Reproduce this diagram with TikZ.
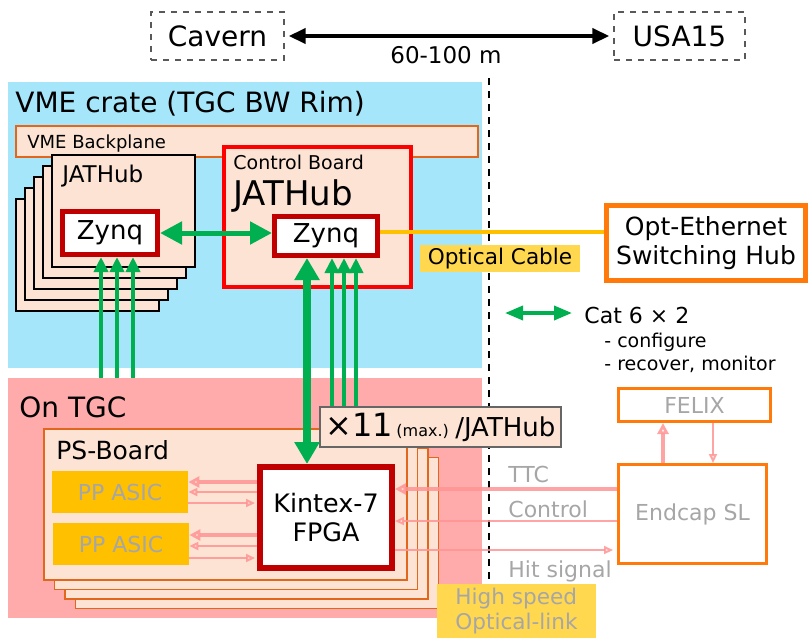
\documentclass[tikz,border=0pt]{standalone}
\usepackage{fontspec}
\setmainfont{DejaVu Sans}
\usetikzlibrary{arrows.meta}
\definecolor{CrateBlue}{HTML}{A5E6FB}
\definecolor{TGCPink}{HTML}{FFABAB}
\definecolor{Peach}{HTML}{FDE3D4}
\definecolor{CardOrange}{HTML}{E2661B}
\definecolor{HubOrange}{HTML}{FF7A0A}
\definecolor{ChipRed}{HTML}{C00000}
\definecolor{BoardRed}{HTML}{FF0000}
\definecolor{LinkGreen}{HTML}{00B050}
\definecolor{CableGold}{HTML}{FFC000}
\definecolor{TagYellow}{HTML}{FFD84F}
\definecolor{SignalPink}{HTML}{FF9494}
\definecolor{FadeGray}{HTML}{A6A6A6}
\newcommand{\setsize}[1]{\fontsize{#1}{1.15\dimexpr#1pt\relax}\selectfont}

\begin{document}
\begin{tikzpicture}[x=0.5pt,y=-0.5pt,
  region/.style={inner sep=0,minimum width=237pt},
  tag/.style={inner sep=0,anchor=base west},
  place/.style={draw=black!65,dashed,line width=0.7pt,inner sep=0,
                minimum height=24pt,font=\setsize{14}},
  plane/.style={draw=CardOrange,line width=0.7pt,fill=Peach,inner sep=0},
  hubcard/.style={draw=black,line width=1.4pt,fill=Peach,inner sep=0},
  pscard/.style={draw=CardOrange,line width=0.8pt,fill=Peach,inner sep=0},
  chip/.style={draw=ChipRed,fill=white,inner sep=0},
  asic/.style={fill=CableGold,inner sep=0,minimum width=68pt,minimum height=21pt,
               text=FadeGray,font=\setsize{11}},
  slbox/.style={draw=HubOrange,line width=1.5pt,fill=white,inner sep=0,
                text=FadeGray,font=\setsize{11}},
  note/.style={fill=TagYellow,inner sep=0},
  dist/.style={{Triangle[length=8.5pt,width=7.5pt]}-{Triangle[length=8.5pt,width=7.5pt]},
               line width=2pt,shorten <=2pt,shorten >=2pt},
  divider/.style={line width=1pt,dash pattern=on 3.5pt off 3pt},
  glink/.style={{Triangle[length=11pt,width=11pt]}-{Triangle[length=11pt,width=11pt]},
                line width=2.5pt,draw=LinkGreen},
  gfat/.style={{Triangle[length=11pt,width=12pt]}-{Triangle[length=11pt,width=12pt]},
               line width=4pt,draw=LinkGreen},
  gup/.style={-{Triangle[length=7.5pt,width=7pt]},line width=2pt,draw=LinkGreen},
  sigthick/.style={-{Triangle[open,length=5.5pt,width=5.5pt]},line width=2pt,
                   draw=SignalPink,draw opacity=0.85},
  sigthin/.style={-{Triangle[open,length=4.5pt,width=4pt]},line width=1pt,
                  draw=SignalPink,draw opacity=0.85}
]
\useasboundingbox (0,0) rectangle (812,638);

% locations
\node[place,minimum width=66.5pt] (cavern) at (217.5,36) {Cavern};
\node[place,minimum width=65.5pt] (usa) at (679.5,36) {USA15};
\draw[dist] (cavern) -- (usa);
\node[tag,font=\setsize{11.5}] (range) at (390,63) {60-100 m};

% the two areas
\node[region,fill=CrateBlue,minimum height=143pt] (crate) at (245,225) {};
\node[region,fill=TGCPink,minimum height=120pt] (tgc) at (245,498) {};
\node[tag,font=\setsize{14}] (cratetitle) at (15,112) {VME crate (TGC BW Rim)};
\node[tag,font=\setsize{14}] (tgctitle) at (19,417) {On TGC};
\coordinate (divtop) at (489,78);
\coordinate (divbot) at (489,638);
\draw[divider] (divtop) -- (divbot);

% VME crate
\node[plane,minimum width=231pt,minimum height=15.5pt] (backplane) at (247,141.5) {};
\node[tag,font=\setsize{9}] (bplabel) at (27,148) {VME Backplane};
\foreach \i in {4,3,2,1}
  \draw[hubcard] ({52-9*\i},{155+11*\i}) rectangle ({195-9*\i},{267+11*\i});
\node[hubcard,minimum width=71.5pt,minimum height=56pt] (hub) at (123.5,211) {};
\node[tag,font=\setsize{11.5}] (hublabel) at (62,182) {JATHub};
\node[chip,line width=2.5pt,minimum width=47.5pt,minimum height=21.5pt,
      font=\setsize{13}] (hubzynq) at (110,233) {Zynq};

\node[draw=BoardRed,line width=2pt,fill=Peach,inner sep=0,
      minimum width=93.5pt,minimum height=70pt] (ctrl) at (317.5,217) {};
\node[tag,font=\setsize{9.5}] (ctrllabel) at (233,169) {Control Board};
\node[tag,font=\setsize{17}] (ctrlhub) at (233,205) {JATHub};
\node[chip,line width=2.5pt,minimum width=51.5pt,minimum height=19.5pt,
      font=\setsize{13}] (cbzynq) at (326,236) {Zynq};

\draw[glink] (hubzynq.east) -- (hubzynq.east -| cbzynq.west);

% optical ethernet
\node[draw=HubOrange,line width=2.5pt,fill=white,inner sep=0,align=center,
      minimum width=99.5pt,minimum height=37.5pt,font=\setsize{12.5}]
  (opteth) at (706,243) {Opt-Ethernet\\Switching Hub};
\draw[draw=CableGold,line width=2pt]
  ([yshift=2pt]cbzynq.east) -- ([yshift=2pt]cbzynq.east -| opteth.west);
\node[note,minimum width=80pt,minimum height=13.5pt,font=\setsize{10.8}]
  (cabletag) at (500,258.5) {Optical Cable};

% legend
\coordinate (legA) at (505,313);
\coordinate (legB) at (572,313);
\draw[{Triangle[length=9pt,width=7pt]}-{Triangle[length=9pt,width=7pt]},
      line width=1.8pt,draw=LinkGreen] (legA) -- (legB);
\node[tag,font=\setsize{11}] (cat) at (584,323) {Cat 6 × 2};
\node[tag,font=\setsize{9.5}] (cfg) at (604,347) {- configure};
\node[tag,font=\setsize{9.5}] (mon) at (604,370) {- recover, monitor};

% PS boards
\foreach \i in {3,2,1}
  \draw[pscard] ({44+10.5*\i},{429+9.5*\i}) rectangle ({407+10.5*\i},{580+9.5*\i});
\node[pscard,minimum width=181.5pt,minimum height=75.5pt] (ps) at (225.5,504.5) {};
\node[tag,font=\setsize{12.5}] (pslabel) at (56,459) {PS-Board};
\node[asic] (asicA) at (120,492) {PP ASIC};
\node[asic] (asicB) at (121,544) {PP ASIC};
\node[chip,line width=3pt,minimum width=66pt,minimum height=50.5pt,align=center,
      font=\setsize{12.7}] (kintex) at (326,517.5) {Kintex-7\\FPGA};

\node[draw=black!60,line width=0.7pt,fill=Peach,inner sep=0,
      minimum width=120.5pt,minimum height=20pt] (xcount) at (440.5,427)
  {{\setsize{16}×11}\,{\setsize{8}(max.)}\ {\setsize{13}/JATHub}};

% green links
\foreach \x in {101,117,133}
  \draw[gup] (tgc.north -| \x,0) -- (hubzynq.south -| \x,0);
\foreach \x in {332,344,356}
  \draw[gup] (xcount.north -| \x,0) -- (cbzynq.south -| \x,0);
\draw[gfat] (cbzynq.south -| 307,0) -- (kintex.north -| 307,0);

% ASIC links
\draw[sigthick] (kintex.west |- 0,482) -- (asicA.east |- 0,482);
\draw[sigthin] (kintex.west |- 0,492) -- (asicA.east |- 0,492);
\draw[sigthin] (asicA.east |- 0,503) -- ([xshift=-1pt]kintex.west |- 0,503);
\draw[sigthick] (kintex.west |- 0,535) -- (asicB.east |- 0,535);
\draw[sigthin] (kintex.west |- 0,546) -- (asicB.east |- 0,546);
\draw[sigthin] (asicB.east |- 0,558) -- ([xshift=-1pt]kintex.west |- 0,558);

% sector logic
\node[slbox,minimum width=76pt,minimum height=16.5pt] (felix) at (694.5,405) {FELIX};
\node[slbox,minimum width=74pt,minimum height=49.5pt] (endcap) at (692.5,514) {Endcap SL};
\draw[sigthick] (endcap.north -| 663,0) -- (felix.south -| 663,0);
\draw[sigthin] (felix.south -| 713,0) -- (endcap.north -| 713,0);
\draw[sigthick] (endcap.west |- 0,489) -- (kintex.east |- 0,489);
\draw[sigthin] (endcap.west |- 0,521) -- (kintex.east |- 0,521);
\draw[sigthin] (kintex.east |- 0,550) -- ([xshift=-2pt]endcap.west |- 0,550);
\node[tag,text=FadeGray,font=\setsize{11}] (ttc) at (508,482) {TTC};
\node[tag,text=FadeGray,font=\setsize{11}] (ctl) at (508,517) {Control};
\node[tag,text=FadeGray,font=\setsize{11}] (hit) at (508,577) {Hit signal};

\node[note,minimum width=79.5pt,minimum height=27pt,align=left,text=FadeGray,
      font=\setsize{10.8}] (hstag) at (516.5,611) {High speed\\Optical-link};
\end{tikzpicture}
\end{document}
